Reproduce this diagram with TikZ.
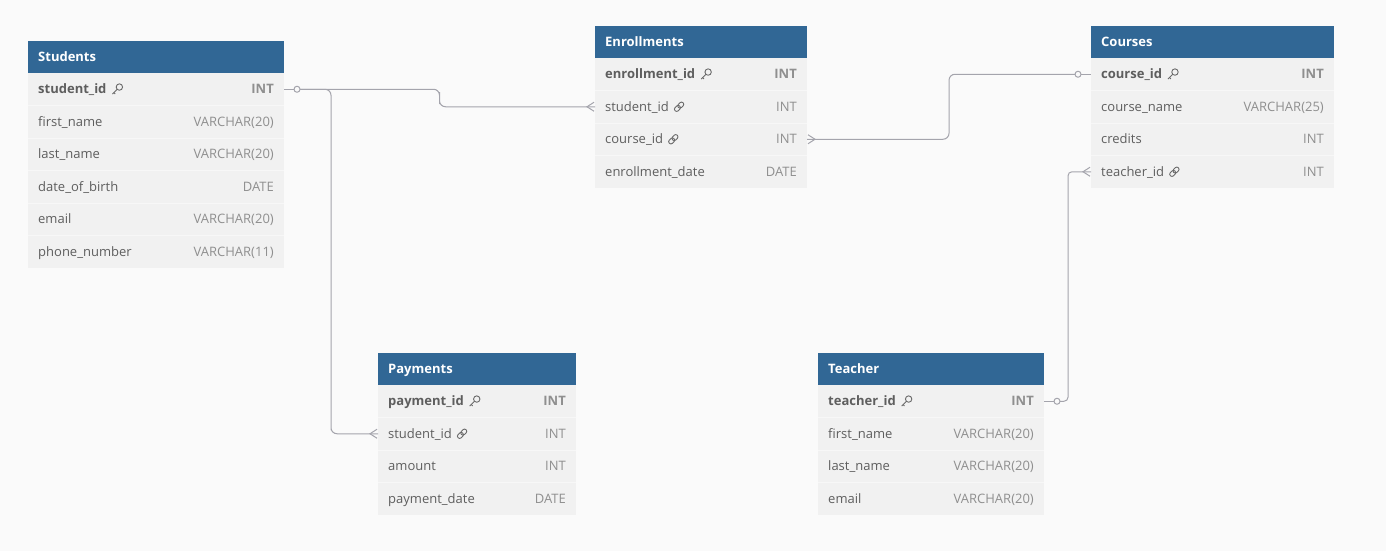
\documentclass[tikz,border=0pt]{standalone}
\usepackage{fontspec}
\setmainfont{Open Sans}
\usetikzlibrary{calc}
\definecolor{bgc}{HTML}{FAFAFA}
\definecolor{hdrc}{HTML}{316795}
\definecolor{rowc}{HTML}{F1F1F1}
\definecolor{sepc}{HTML}{F7F7F7}
\definecolor{namec}{HTML}{5E5E5E}
\definecolor{typec}{HTML}{8F8F8F}
\definecolor{connc}{HTML}{A4A4AC}
\definecolor{iconc}{HTML}{6A6A6A}
\tikzset{
  hdrbox/.style={fill=hdrc, draw=none, inner sep=0, outer sep=0, minimum height=32},
  hdrtext/.style={text=white, inner sep=0, font=\fontsize{13}{15}\selectfont\bfseries},
  rowbox/.style={fill=rowc, draw=none, inner sep=0, outer sep=0, minimum height=32.5},
  sepline/.style={draw=sepc, line width=1},
  namek0/.style={text=namec, inner sep=0, font=\fontsize{13}{15}\selectfont},
  namek1/.style={text=namec, inner sep=0, font=\fontsize{13}{15}\selectfont\bfseries},
  namek2/.style={text=namec, inner sep=0, font=\fontsize{13}{15}\selectfont},
  typek0/.style={text=typec, inner sep=0, font=\fontsize{13}{15}\selectfont},
  typek1/.style={text=typec, inner sep=0, font=\fontsize{13}{15}\selectfont\bfseries},
  typek2/.style={text=typec, inner sep=0, font=\fontsize{13}{15}\selectfont},
  iconline/.style={draw=iconc, line width=0.9},
  conn/.style={draw=connc, line width=1},
  keyicon/.pic={
    \draw[iconline] (2.2,-2.2) circle (3.2);
    \draw[iconline] (-0.1,0.1) -- (-4.8,4.8);
    \draw[iconline] (-3.3,3.3) -- (-1.9,4.7);
  },
  linkicon/.pic={
    \draw[iconline, rounded corners=2, rotate=45] (-5.6,-2.2) rectangle (0.9,2.2);
    \draw[iconline, rounded corners=2, rotate=45] (-0.9,-2.2) rectangle (5.6,2.2);
  }
}
\newcommand\erdtable[6]{%
  \node[hdrbox, minimum width={#3-#2}, anchor=north west] (#1-h) at (#2,#4) {};
  \node[hdrtext, anchor=base west] (#1-ht) at ($(#1-h.west)+(10,4.5)$) {#5};
  \foreach [count=\i] \fname/\ftype/\fkind in {#6} {
    \node[rowbox, minimum width={#3-#2}, anchor=north west] (#1-\i) at (#2,{#4+32+(\i-1)*32.5}) {};
    \ifnum\i>1 \draw[sepline] (#1-\i.north west) -- (#1-\i.north east);\fi
    \node[namek\fkind, anchor=base west] (#1-\i-n) at ($(#1-\i.west)+(10,4.5)$) {\fname};
    \node[typek\fkind, anchor=base east] (#1-\i-t) at ($(#1-\i.east)+(-10,4.5)$) {\ftype};
    \ifnum\fkind=1 \pic at ($(#1-\i-n.base east)+(10.5,-4.5)$) {keyicon};\fi
    \ifnum\fkind=2 \pic at ($(#1-\i-n.base east)+(10,-4.5)$) {linkicon};\fi
  }
}
\begin{document}
\begin{tikzpicture}[x=1pt,y=-1pt]
\fill[bgc] (0,0) rectangle (1386,551);
\useasboundingbox (0,0) rectangle (1386,551);

\erdtable{stu}{28}{284}{41}{Students}{student\_id/INT/1, first\_name/VARCHAR(20)/0, last\_name/VARCHAR(20)/0, date\_of\_birth/DATE/0, email/VARCHAR(20)/0, phone\_number/VARCHAR(11)/0}
\erdtable{enr}{595}{807}{26}{Enrollments}{enrollment\_id/INT/1, student\_id/INT/2, course\_id/INT/2, enrollment\_date/DATE/0}
\erdtable{crs}{1091}{1334}{26}{Courses}{course\_id/INT/1, course\_name/VARCHAR(25)/0, credits/INT/0, teacher\_id/INT/2}
\erdtable{pay}{378}{576}{353}{Payments}{payment\_id/INT/1, student\_id/INT/2, amount/INT/0, payment\_date/DATE/0}
\erdtable{tch}{818}{1044}{353}{Teacher}{teacher\_id/INT/1, first\_name/VARCHAR(20)/0, last\_name/VARCHAR(20)/0, email/VARCHAR(20)/0}

% Students -> Enrollments
\draw[conn] (stu-1.east) -- ++(10,0);
\draw[conn] ($(stu-1.east)+(13,0)$) circle (3);
\draw[conn, rounded corners=6] ($(stu-1.east)+(16,0)$) -| ($(stu-1.east)!0.5!(enr-2.west)$) |- (enr-2.west);
\draw[conn] ($(enr-2.west)+(-1,-4.5)$) -- ($(enr-2.west)+(-8,0)$) -- ($(enr-2.west)+(-1,4.5)$);
% Students -> Payments
\draw[conn, rounded corners=6] ($(stu-1.east)+(16,0)$) -| ($(pay-2.west)+(-47,0)$) |- (pay-2.west);
\draw[conn] ($(pay-2.west)+(-1,-4.5)$) -- ($(pay-2.west)+(-8,0)$) -- ($(pay-2.west)+(-1,4.5)$);
% Enrollments -> Courses
\draw[conn, rounded corners=6] (enr-3.east) -| ($(enr-3.east)!0.5!(crs-1.west)$) |- ($(crs-1.west)+(-16,0)$);
\draw[conn] ($(enr-3.east)+(1,-4.5)$) -- ($(enr-3.east)+(8,0)$) -- ($(enr-3.east)+(1,4.5)$);
\draw[conn] ($(crs-1.west)+(-13,0)$) circle (3);
\draw[conn] ($(crs-1.west)+(-10,0)$) -- (crs-1.west);
% Teacher -> Courses
\draw[conn] (tch-1.east) -- ++(10,0);
\draw[conn] ($(tch-1.east)+(13,0)$) circle (3);
\draw[conn, rounded corners=4] ($(tch-1.east)+(16,0)$) -- ($(tch-1.east)+(24,0)$) |- (crs-4.west);
\draw[conn] ($(crs-4.west)+(-1,-4.5)$) -- ($(crs-4.west)+(-8,0)$) -- ($(crs-4.west)+(-1,4.5)$);
\end{tikzpicture}
\end{document}
